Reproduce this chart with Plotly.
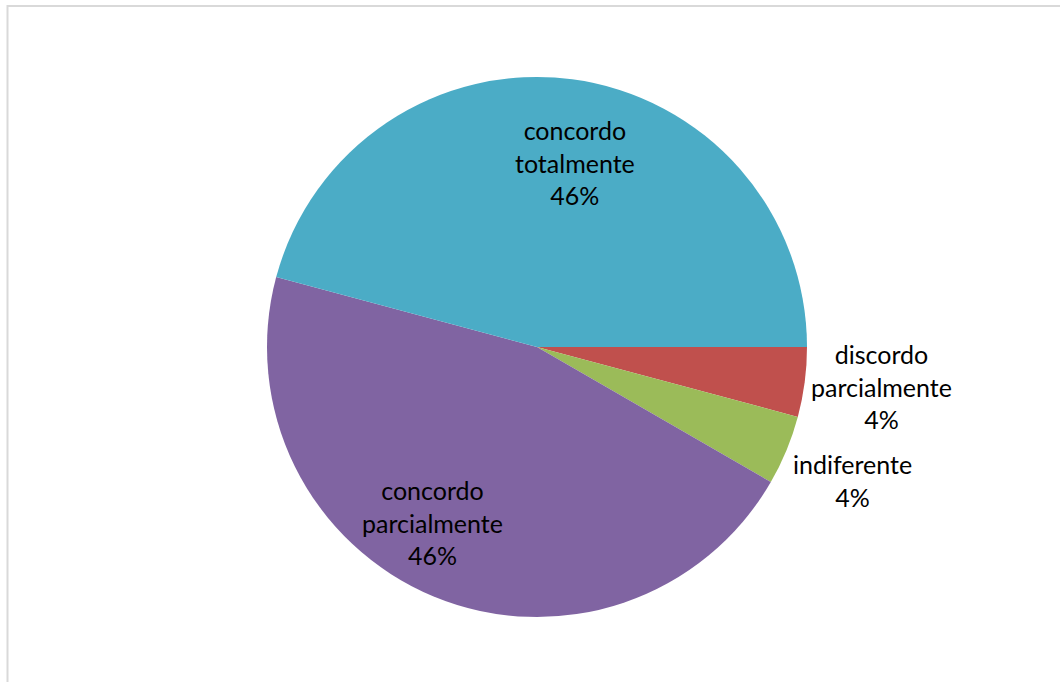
import math
import plotly.graph_objects as go

# Survey answers, listed clockwise from 3 o'clock
labels = ["discordo<br>parcialmente", "indiferente", "concordo<br>parcialmente", "concordo<br>totalmente"]
counts = [1, 1, 11, 11]
colors = ["#C0504D", "#9BBB59", "#8064A2", "#4BACC6"]

# label placement around the pie: (angle in degrees, counter-clockwise from 3 o'clock; distance in radii)
label_place = [(-6.6, 1.283), (-23.0, 1.268), (239.4, 0.757), (78.3, 0.696)]

W, H = 1060, 682
L, R, T, B = 14, 0, 77, 65
pw, ph = W - L - R, H - T - B
radius_px = min(pw, ph) / 2

fig = go.Figure(
    go.Pie(
        labels=labels,
        values=counts,
        sort=False,
        direction="clockwise",
        rotation=90,
        marker=dict(colors=colors, line=dict(width=0)),
        textinfo="none",
        hoverinfo="label+percent",
        showlegend=False,
    )
)

total = sum(counts)
for lab, val, (ang, dist) in zip(labels, counts, label_place):
    a = math.radians(ang)
    fig.add_annotation(
        xref="paper", yref="paper",
        x=0.5 + dist * radius_px * math.cos(a) / pw,
        y=0.5 + dist * radius_px * math.sin(a) / ph,
        xanchor="center", yanchor="middle",
        text=f"{lab}<br>{round(100 * val / total)}%",
        showarrow=False,
        align="center",
        font=dict(family="Lato", size=25, color="#000000"),
    )

# light frame around the chart area
fig.add_shape(
    type="rect",
    xref="paper", yref="paper",
    x0=(7.5 - L) / pw, x1=(W + 5 - L) / pw,
    y0=-0.3, y1=(H - B - 6) / ph,
    line=dict(color="#D9D9D9", width=2),
    fillcolor="rgba(0,0,0,0)",
)

fig.update_layout(
    width=W, height=H,
    margin=dict(l=L, r=R, t=T, b=B, autoexpand=False),
    paper_bgcolor="white",
    plot_bgcolor="white",
)

fig.write_html("out.html")
